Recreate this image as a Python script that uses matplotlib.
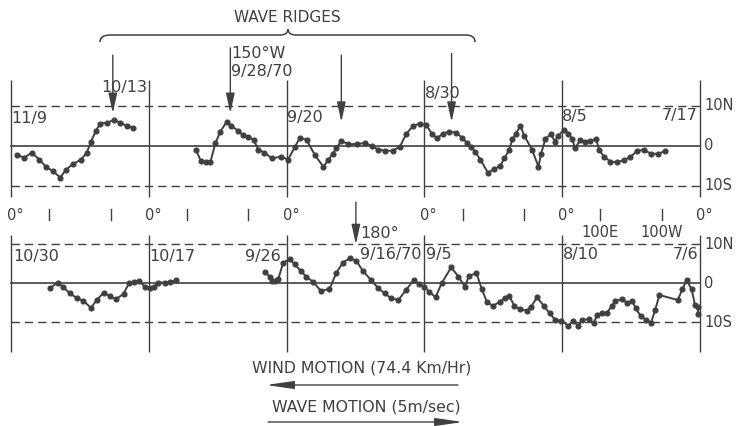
import matplotlib
matplotlib.use("Agg")
import matplotlib.pyplot as plt
from matplotlib.path import Path
from matplotlib.patches import PathPatch

# Track positions.
# lon: degrees counted eastward over five circuits per strip (0-1800), lat: degrees (+N / -S)
top_a_lon = [16, 35, 54, 74, 91, 109, 129, 143, 161, 183, 198, 209, 222, 233, 250, 270, 285, 303, 320]
top_a_lat = [-2.4, -3.0, -1.8, -3.5, -5.3, -6.4, -8.0, -6.1, -4.7, -3.5, -1.8, 1.0, 3.7, 5.5, 5.7, 6.4, 5.7, 4.9, 4.5]

top_b_lon = [483, 496, 509, 521, 534, 547, 564, 576, 593, 606,
             620, 634, 646, 662, 682, 705, 724, 742, 755, 772,
             794, 816, 829, 840, 850, 863, 881, 903, 924, 942,
             959, 977, 997, 1016, 1033, 1051, 1068, 1085, 1099, 1112,
             1129, 1145, 1163, 1178, 1191, 1202, 1213, 1226, 1246, 1262,
             1278, 1289, 1302, 1310, 1319, 1331, 1341, 1361, 1378, 1385,
             1396, 1410, 1421, 1429, 1445, 1456, 1466, 1474, 1487, 1500,
             1513, 1528, 1537, 1549, 1566, 1584, 1601, 1618, 1636, 1654,
             1671, 1689, 1709]
top_b_lat = [-1.0, -3.9, -4.1, -4.1, 0.6, 3.5, 6.0, 4.9, 3.7, 2.6,
             2.2, 1.4, -1.0, -1.8, -3.2, -2.8, -3.5, -0.3, 2.0, 1.4,
             -2.4, -5.3, -3.6, -2.1, -0.7, 1.2, 0.3, 0.4, 0.6, -0.1,
             -1.0, -1.3, -1.3, -0.3, 3.0, 4.9, 5.5, 5.1, 3.0, 1.8,
             3.0, 3.5, 3.2, 2.0, 0.7, -0.3, -1.6, -3.5, -6.8, -5.9,
             -5.1, -3.2, -1.0, 1.6, 3.0, 4.9, 2.4, -1.0, -5.3, -2.0,
             1.6, 2.9, 1.0, 2.4, 3.9, 3.0, 1.6, -0.7, 1.4, 1.0,
             1.2, 1.6, -1.1, -2.8, -4.0, -4.2, -3.6, -2.9, -1.3, -1.1,
             -2.0, -2.1, -1.4]

bot_a_lon = [102, 122, 137, 154, 172, 189, 209, 224, 242, 259, 274,
             294, 309, 321, 334, 350, 362, 373, 385, 402, 415, 432]
bot_a_lat = [-1.2, 0.2, -1.0, -2.6, -3.8, -4.5, -6.3, -4.3, -2.4, -3.3, -4.1,
             -2.7, 0.2, 0.3, 0.7, -0.9, -1.3, -0.9, 0.2, 0.2, 0.4, 0.8]

bot_b_lon = [664, 677, 683, 690, 698, 711, 728, 741, 757, 771,
             789, 809, 832, 850, 867, 885, 902, 919, 941, 958,
             976, 993, 1012, 1032, 1052, 1067, 1080, 1093, 1109, 1125,
             1150, 1169, 1186, 1196, 1216, 1230, 1243, 1259, 1277, 1290,
             1302, 1315, 1329, 1347, 1359, 1374, 1392, 1407, 1422, 1438,
             1456, 1469, 1481, 1493, 1509, 1522, 1531, 1544, 1557, 1570,
             1579, 1595, 1610, 1623, 1632, 1645, 1659, 1672, 1683, 1694,
             1742, 1754, 1765, 1778, 1787, 1795, 1794]
bot_b_lat = [3.0, 1.5, 0.7, 0.7, 1.0, 5.3, 6.2, 4.9, 3.2, 1.7,
             0.4, -1.9, -1.5, 2.7, 5.3, 6.4, 5.8, 3.2, 0.8, -1.1,
             -2.6, -3.8, -4.3, -1.7, 0.8, -0.3, -0.9, -2.2, -3.6, 0.0,
             4.1, 1.7, -0.9, 1.9, 2.6, -1.5, -4.7, -5.8, -4.7, -3.8,
             -3.3, -5.8, -6.6, -7.0, -6.0, -3.6, -5.8, -7.7, -9.4, -9.6,
             -10.9, -9.6, -10.9, -9.4, -9.2, -10.3, -8.1, -7.7, -7.5, -5.8,
             -4.5, -4.1, -5.0, -4.5, -6.4, -8.4, -9.4, -10.1, -6.8, -3.0,
             -4.3, -1.5, 0.8, -1.5, -5.6, -6.0, -7.9]

meridians = [0, 360, 720, 1080, 1440, 1800]
minor_ticks = [100, 260, 460, 620, 1180, 1340, 1540, 1700]   # 100E / 100W of each circuit
lat_labels = ["10N", "0", "10S"]
lat_levels = [10, 0, -10]

# (lon, lat, text, ha) date labels
top_dates = [(0, 6.8, "11/9", "left"), (355, 14.5, "10/13", "right"),
             (720, 7.0, "9/20", "left"), (1080, 13.0, "8/30", "left"),
             (1440, 7.3, "8/5", "left"), (1795, 7.6, "7/17", "right")]
bot_dates = [(5, 6.8, "10/30", "left"), (362, 6.8, "10/17", "left"),
             (705, 6.8, "9/26", "right"), (1085, 7.3, "9/5", "left"),
             (1442, 7.3, "8/10", "left"), (1795, 7.3, "7/6", "right")]
# ridge arrows: (lon, shaft top lat, tip lat)
top_ridges = [(266, 22.6, 8.1), (573, 24.4, 8.1), (863, 22.6, 5.9), (1151, 23.0, 5.9)]
bot_ridge = (901, 20.8, 10.0)

W, H = 737, 426
INK = "#404040"
X0, X1 = 11, 700
deg_per_px = 1800 / (X1 - X0)
FS_DATE = 11.5

fig = plt.figure(figsize=(W / 100, H / 100), dpi=100)
fig.patch.set_facecolor("white")


def strip_axes(top_px, bot_px, zero_px, px_per_deg):
    ax = fig.add_axes([0, 1 - bot_px / H, 1, (bot_px - top_px) / H])
    ax.set_xlim(-X0 * deg_per_px, (W - X0) * deg_per_px)
    ax.set_ylim((zero_px - bot_px) / px_per_deg, (zero_px - top_px) / px_per_deg)
    ax.axis("off")
    return ax


def draw_strip(ax, vtop, vbot, pieces, dates):
    ax.vlines(meridians, vbot, vtop, color=INK, lw=1.0)
    ax.plot([0, 1800], [0, 0], color=INK, lw=1.2)
    for lv in (10, -10):
        ax.plot([0, 1800], [lv, lv], color=INK, lw=1.0, dashes=(6, 3.6))
    for lon, lat in pieces:
        ax.plot(lon, lat, "-o", color=INK, lw=1.4, ms=3.4, mec=INK, mfc=INK)
    for lv, lab in zip(lat_levels, lat_labels):
        ax.text(1800 + 4 * deg_per_px, lv, lab, ha="left", va="center",
                fontsize=10.5, color=INK)
    for lon, lat, txt, ha in dates:
        ax.text(lon, lat, txt, ha=ha, va="center", fontsize=FS_DATE, color=INK)


ax_top = strip_axes(0, 205, 145.5, 4.0)
ax_bot = strip_axes(205, 426, 283.3, 3.9)

draw_strip(ax_top, 16.4, -12.9, [(top_a_lon, top_a_lat), (top_b_lon, top_b_lat)], top_dates)
draw_strip(ax_bot, 12.4, -17.5, [(bot_a_lon, bot_a_lat), (bot_b_lon, bot_b_lat)], bot_dates)

arrow_kw = dict(arrowstyle="-|>,head_length=1.0,head_width=0.22", color=INK,
                lw=1.0, mutation_scale=12, shrinkA=0, shrinkB=0)
for lon, y0, y1 in top_ridges:
    ax_top.annotate("", xy=(lon, y1), xytext=(lon, y0), arrowprops=arrow_kw,
                    annotation_clip=False)
ax_bot.annotate("", xy=(bot_ridge[0], bot_ridge[2]), xytext=(bot_ridge[0], bot_ridge[1]),
                arrowprops=arrow_kw, annotation_clip=False)

ax_top.text(575, 23.1, "150°W", ha="left", va="center", fontsize=FS_DATE, color=INK)
ax_top.text(575, 18.4, "9/28/70", ha="left", va="center", fontsize=FS_DATE, color=INK)
ax_bot.text(912, 12.7, "180°", ha="left", va="center", fontsize=FS_DATE, color=INK)
ax_bot.text(912, 7.3, "9/16/70", ha="left", va="center", fontsize=FS_DATE, color=INK)
ax_bot.text(1540, 12.9, "100E", ha="center", va="center", fontsize=10.5, color=INK)
ax_bot.text(1700, 12.9, "100W", ha="center", va="center", fontsize=10.5, color=INK)

# overlay in pixel coordinates for the shared longitude row and captions
ov = fig.add_axes([0, 0, 1, 1])
ov.set_xlim(0, W)
ov.set_ylim(H, 0)
ov.axis("off")


def lon_px(lon):
    return X0 + lon / deg_per_px


for m in meridians:
    ov.text(lon_px(m) - 4, 215, "0°", ha="left", va="center", fontsize=10.5, color=INK)
for t in minor_ticks:
    ov.plot([lon_px(t), lon_px(t)], [209, 220], color=INK, lw=1.0)

# WAVE RIDGES brace
verts = [(100, 42), (100, 35), (110, 35), (280, 35), (288, 35), (288, 29),
         (288, 35), (296, 35), (466, 35), (475, 35), (475, 42)]
codes = [Path.MOVETO, Path.CURVE3, Path.CURVE3, Path.LINETO, Path.CURVE3, Path.CURVE3,
         Path.CURVE3, Path.CURVE3, Path.LINETO, Path.CURVE3, Path.CURVE3]
ov.add_patch(PathPatch(Path(verts, codes), fill=False, ec=INK, lw=1.1))
ov.text(287, 17, "WAVE RIDGES", ha="center", va="center", fontsize=11, color=INK)

cap_arrow = dict(arrowstyle="-|>,head_length=1.4,head_width=0.2", color=INK,
                 lw=1.0, mutation_scale=12, shrinkA=0, shrinkB=0)
ov.text(362, 368, "WIND MOTION (74.4 Km/Hr)", ha="center", va="center", fontsize=11.3, color=INK)
ov.annotate("", xy=(266, 385), xytext=(458, 385), arrowprops=cap_arrow)
ov.text(366, 407, "WAVE MOTION (5m/sec)", ha="center", va="center", fontsize=11.3, color=INK)
ov.annotate("", xy=(463, 422), xytext=(268, 422), arrowprops=cap_arrow)

fig.savefig("out.png", dpi=100, facecolor="white")
